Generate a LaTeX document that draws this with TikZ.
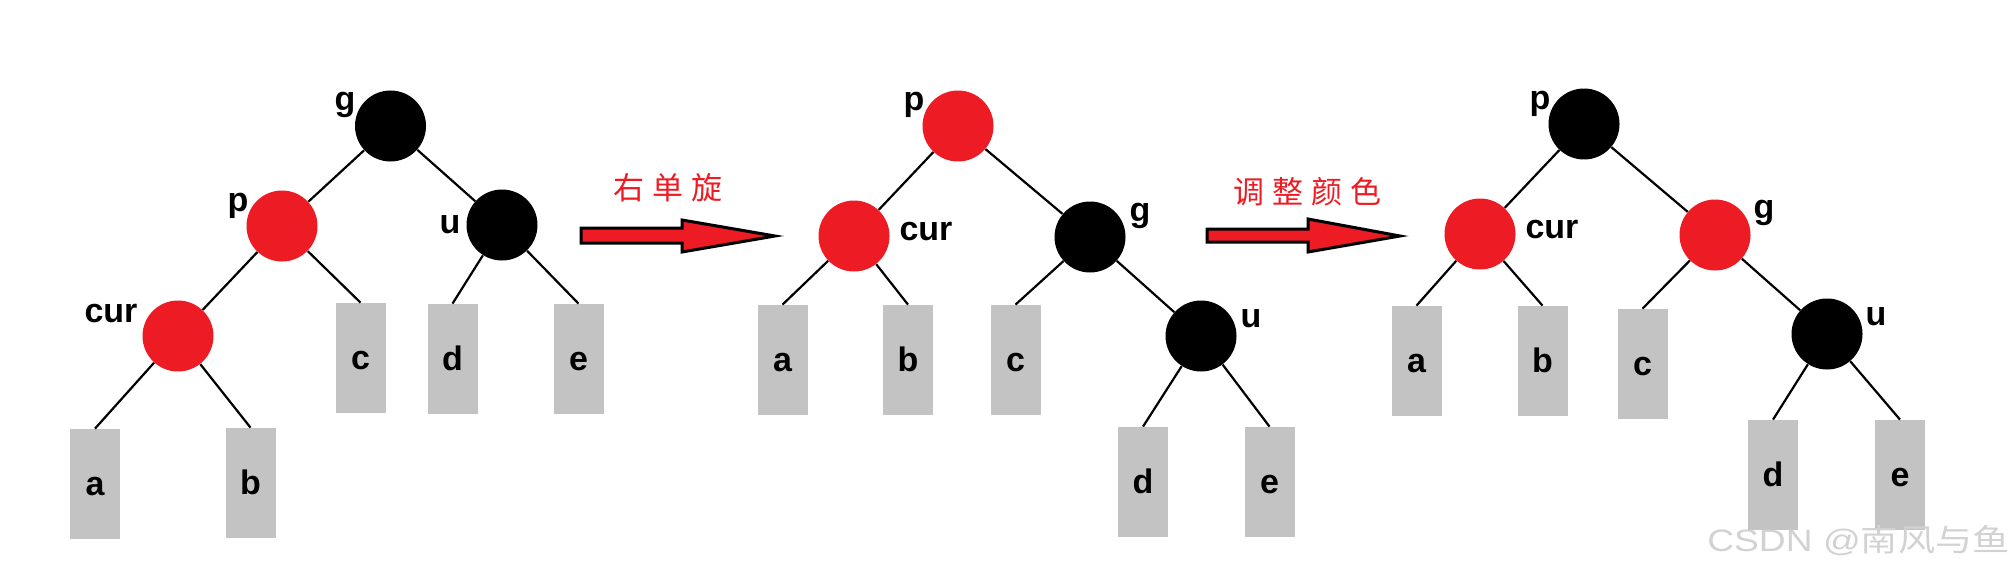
\documentclass[tikz,border=0pt]{standalone}
\usepackage{fontspec}
\setmainfont{Liberation Sans}
\newfontfamily\cjk{Noto Sans CJK SC}
\definecolor{rbred}{RGB}{237,28,36}
\definecolor{leafgray}{RGB}{195,195,195}
\definecolor{wmgray}{RGB}{210,210,210}

\begin{document}
\begin{tikzpicture}[x=0.5pt, y=-0.5pt,
    rnode/.style={circle, fill=rbred, minimum size=35.5pt, inner sep=0pt},
    bnode/.style={circle, fill=black, minimum size=35.5pt, inner sep=0pt},
    leaf/.style={fill=leafgray, minimum width=25pt, minimum height=55pt, inner sep=0pt,
        text height=11.5pt, text depth=0pt, font=\fontsize{17}{20}\selectfont\bfseries},
    lbl/.style={anchor=base, inner sep=0pt, font=\fontsize{17}{20}\selectfont\bfseries},
    edge/.style={line width=1.1pt},
    bigarrow/.style={draw=black, fill=rbred, line width=1.5pt, line join=miter},
    note/.style={text=rbred, inner sep=0pt, font=\cjk\fontsize{15.5}{18}\selectfont}]
    \useasboundingbox (0,0) rectangle (2016,583);

    % First tree (before rotation)
    \node[bnode] (g1) at (390.5,126) {};
    \node[rnode] (p1) at (282,226) {};
    \node[bnode] (u1) at (502,225) {};
    \node[rnode] (cur1) at (178,336) {};
    \node[leaf] (c1) at (360.5,358) {c};
    \node[leaf] (d1) at (452.5,359) {d};
    \node[leaf] (e1) at (578.5,359) {e};
    \node[leaf] (a1) at (95,484) {a};
    \node[leaf] (b1) at (250.5,483) {b};
    \node[lbl] (lg1) at (345,111) {g};
    \node[lbl] (lp1) at (238,211) {p};
    \node[lbl] (lu1) at (450,233) {u};
    \node[lbl] (lcur1) at (111,322) {cur};

    \draw[edge] (g1) -- (p1);
    \draw[edge] (g1) -- (u1);
    \draw[edge] (p1) -- (cur1);
    \draw[edge] (p1) -- (c1.north);
    \draw[edge] (u1) -- (d1.north);
    \draw[edge] (u1) -- (e1.north);
    \draw[edge] (cur1) -- (a1.north);
    \draw[edge] (cur1) -- (b1.north);

    % Arrow: right rotation
    \draw[bigarrow] (581,228) -- (682,228) -- (682,220) -- (775,236)
        -- (682,252) -- (682,243) -- (581,243) -- cycle;
    \node[note] (rot) at (668,188) {右\hspace{4pt}单\hspace{4pt}旋};

    % Second tree (after rotation)
    \node[rnode] (p2) at (958,126) {};
    \node[rnode] (cur2) at (854,236) {};
    \node[bnode] (g2) at (1090,237) {};
    \node[bnode] (u2) at (1201,336) {};
    \node[leaf] (a2) at (782.5,360) {a};
    \node[leaf] (b2) at (908,360) {b};
    \node[leaf] (c2) at (1015.5,360) {c};
    \node[leaf] (d2) at (1143,482) {d};
    \node[leaf] (e2) at (1269.5,482) {e};
    \node[lbl] (lp2) at (914,111) {p};
    \node[lbl] (lcur2) at (926,240) {cur};
    \node[lbl] (lg2) at (1140,221) {g};
    \node[lbl] (lu2) at (1251,327) {u};

    \draw[edge] (p2) -- (cur2);
    \draw[edge] (p2) -- (g2);
    \draw[edge] (cur2) -- (a2.north);
    \draw[edge] (cur2) -- (b2.north);
    \draw[edge] (g2) -- (c2.north);
    \draw[edge] (g2) -- (u2);
    \draw[edge] (u2) -- (d2.north);
    \draw[edge] (u2) -- (e2.north);

    % Arrow: recolour
    \draw[bigarrow] (1207,229) -- (1308,229) -- (1308,219) -- (1400,236)
        -- (1308,252) -- (1308,242) -- (1207,242) -- cycle;
    \node[note] (recol) at (1307,192) {调\hspace{4pt}整\hspace{4pt}颜\hspace{4pt}色};

    % Third tree (after recolouring)
    \node[bnode] (p3) at (1584,124) {};
    \node[rnode] (cur3) at (1480,234) {};
    \node[rnode] (g3) at (1715,235) {};
    \node[bnode] (u3) at (1827,334) {};
    \node[leaf] (a3) at (1416.5,361) {a};
    \node[leaf] (b3) at (1542.5,361) {b};
    \node[leaf] (c3) at (1642.5,364) {c};
    \node[leaf] (d3) at (1773,475) {d};
    \node[leaf] (e3) at (1900,475) {e};
    \node[lbl] (lp3) at (1540,110) {p};
    \node[lbl] (lcur3) at (1552,238) {cur};
    \node[lbl] (lg3) at (1764,218) {g};
    \node[lbl] (lu3) at (1876,325) {u};

    \draw[edge] (p3) -- (cur3);
    \draw[edge] (p3) -- (g3);
    \draw[edge] (cur3) -- (a3.north);
    \draw[edge] (cur3) -- (b3.north);
    \draw[edge] (g3) -- (c3.north);
    \draw[edge] (g3) -- (u3);
    \draw[edge] (u3) -- (d3.north);
    \draw[edge] (u3) -- (e3.north);

    % Watermark
    \node[anchor=base east, inner sep=0pt, text=wmgray, font=\fontsize{15.5}{18}\selectfont]
        (wm) at (2010,551) {\scalebox{1.2}[1]{CSDN @{\cjk 南风与鱼}}};
\end{tikzpicture}
\end{document}
